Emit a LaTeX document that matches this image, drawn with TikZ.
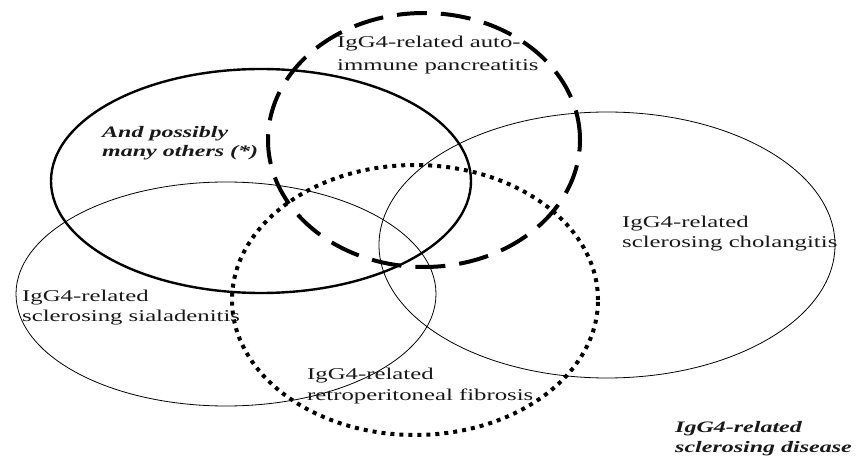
\documentclass[tikz,border=0pt]{standalone}
\usepackage{fontspec}
\setmainfont{Liberation Serif}[FakeStretch=1.5]
\begin{document}
\begin{tikzpicture}[x=1pt,y=-1pt,
  thinring/.style={draw, line width=0.8pt},
  thickring/.style={draw, line width=2.4pt},
  dashring/.style={draw, line width=4pt, dash pattern=on 30pt off 14pt},
  dotring/.style={draw, line width=4pt, dash pattern=on 4pt off 5pt},
  lbl/.style={anchor=base west, inner sep=0pt, align=left,
    font=\fontsize{16.5}{20.5}\selectfont, text=black!90},
  bilbl/.style={lbl, font=\fontsize{16}{19.5}\selectfont\bfseries\itshape}]
\useasboundingbox (0,0) rectangle (857,462);
\path[fill=white] (0,0) rectangle (857,462);
% ellipses
\path[thinring] (226,294) ellipse [x radius=210pt, y radius=112pt];
\path[thinring] (607,245) ellipse [x radius=228pt, y radius=133pt];
\path[thickring] (261,181) ellipse [x radius=210pt, y radius=112pt];
\path[dashring] (424,140) ellipse [x radius=156pt, y radius=127pt];
\path[dotring] (415,300) ellipse [x radius=183pt, y radius=135pt];
% labels (anchored at the baseline of the last line)
\node[lbl, font=\fontsize{16.5}{23}\selectfont] (pan) at (337,71) {IgG4-related auto-\\immune pancreatitis};
\node[bilbl] (oth) at (102,157) {And possibly\\many others (*)};
\node[lbl] (cho) at (622,248) {IgG4-related\\sclerosing cholangitis};
\node[lbl] (sia) at (22,322) {IgG4-related\\sclerosing sialadenitis};
\node[lbl] (ret) at (307,400) {IgG4-related\\retroperitoneal fibrosis};
\node[bilbl] (dis) at (675,452) {IgG4-related\\sclerosing disease};
\end{tikzpicture}
\end{document}
